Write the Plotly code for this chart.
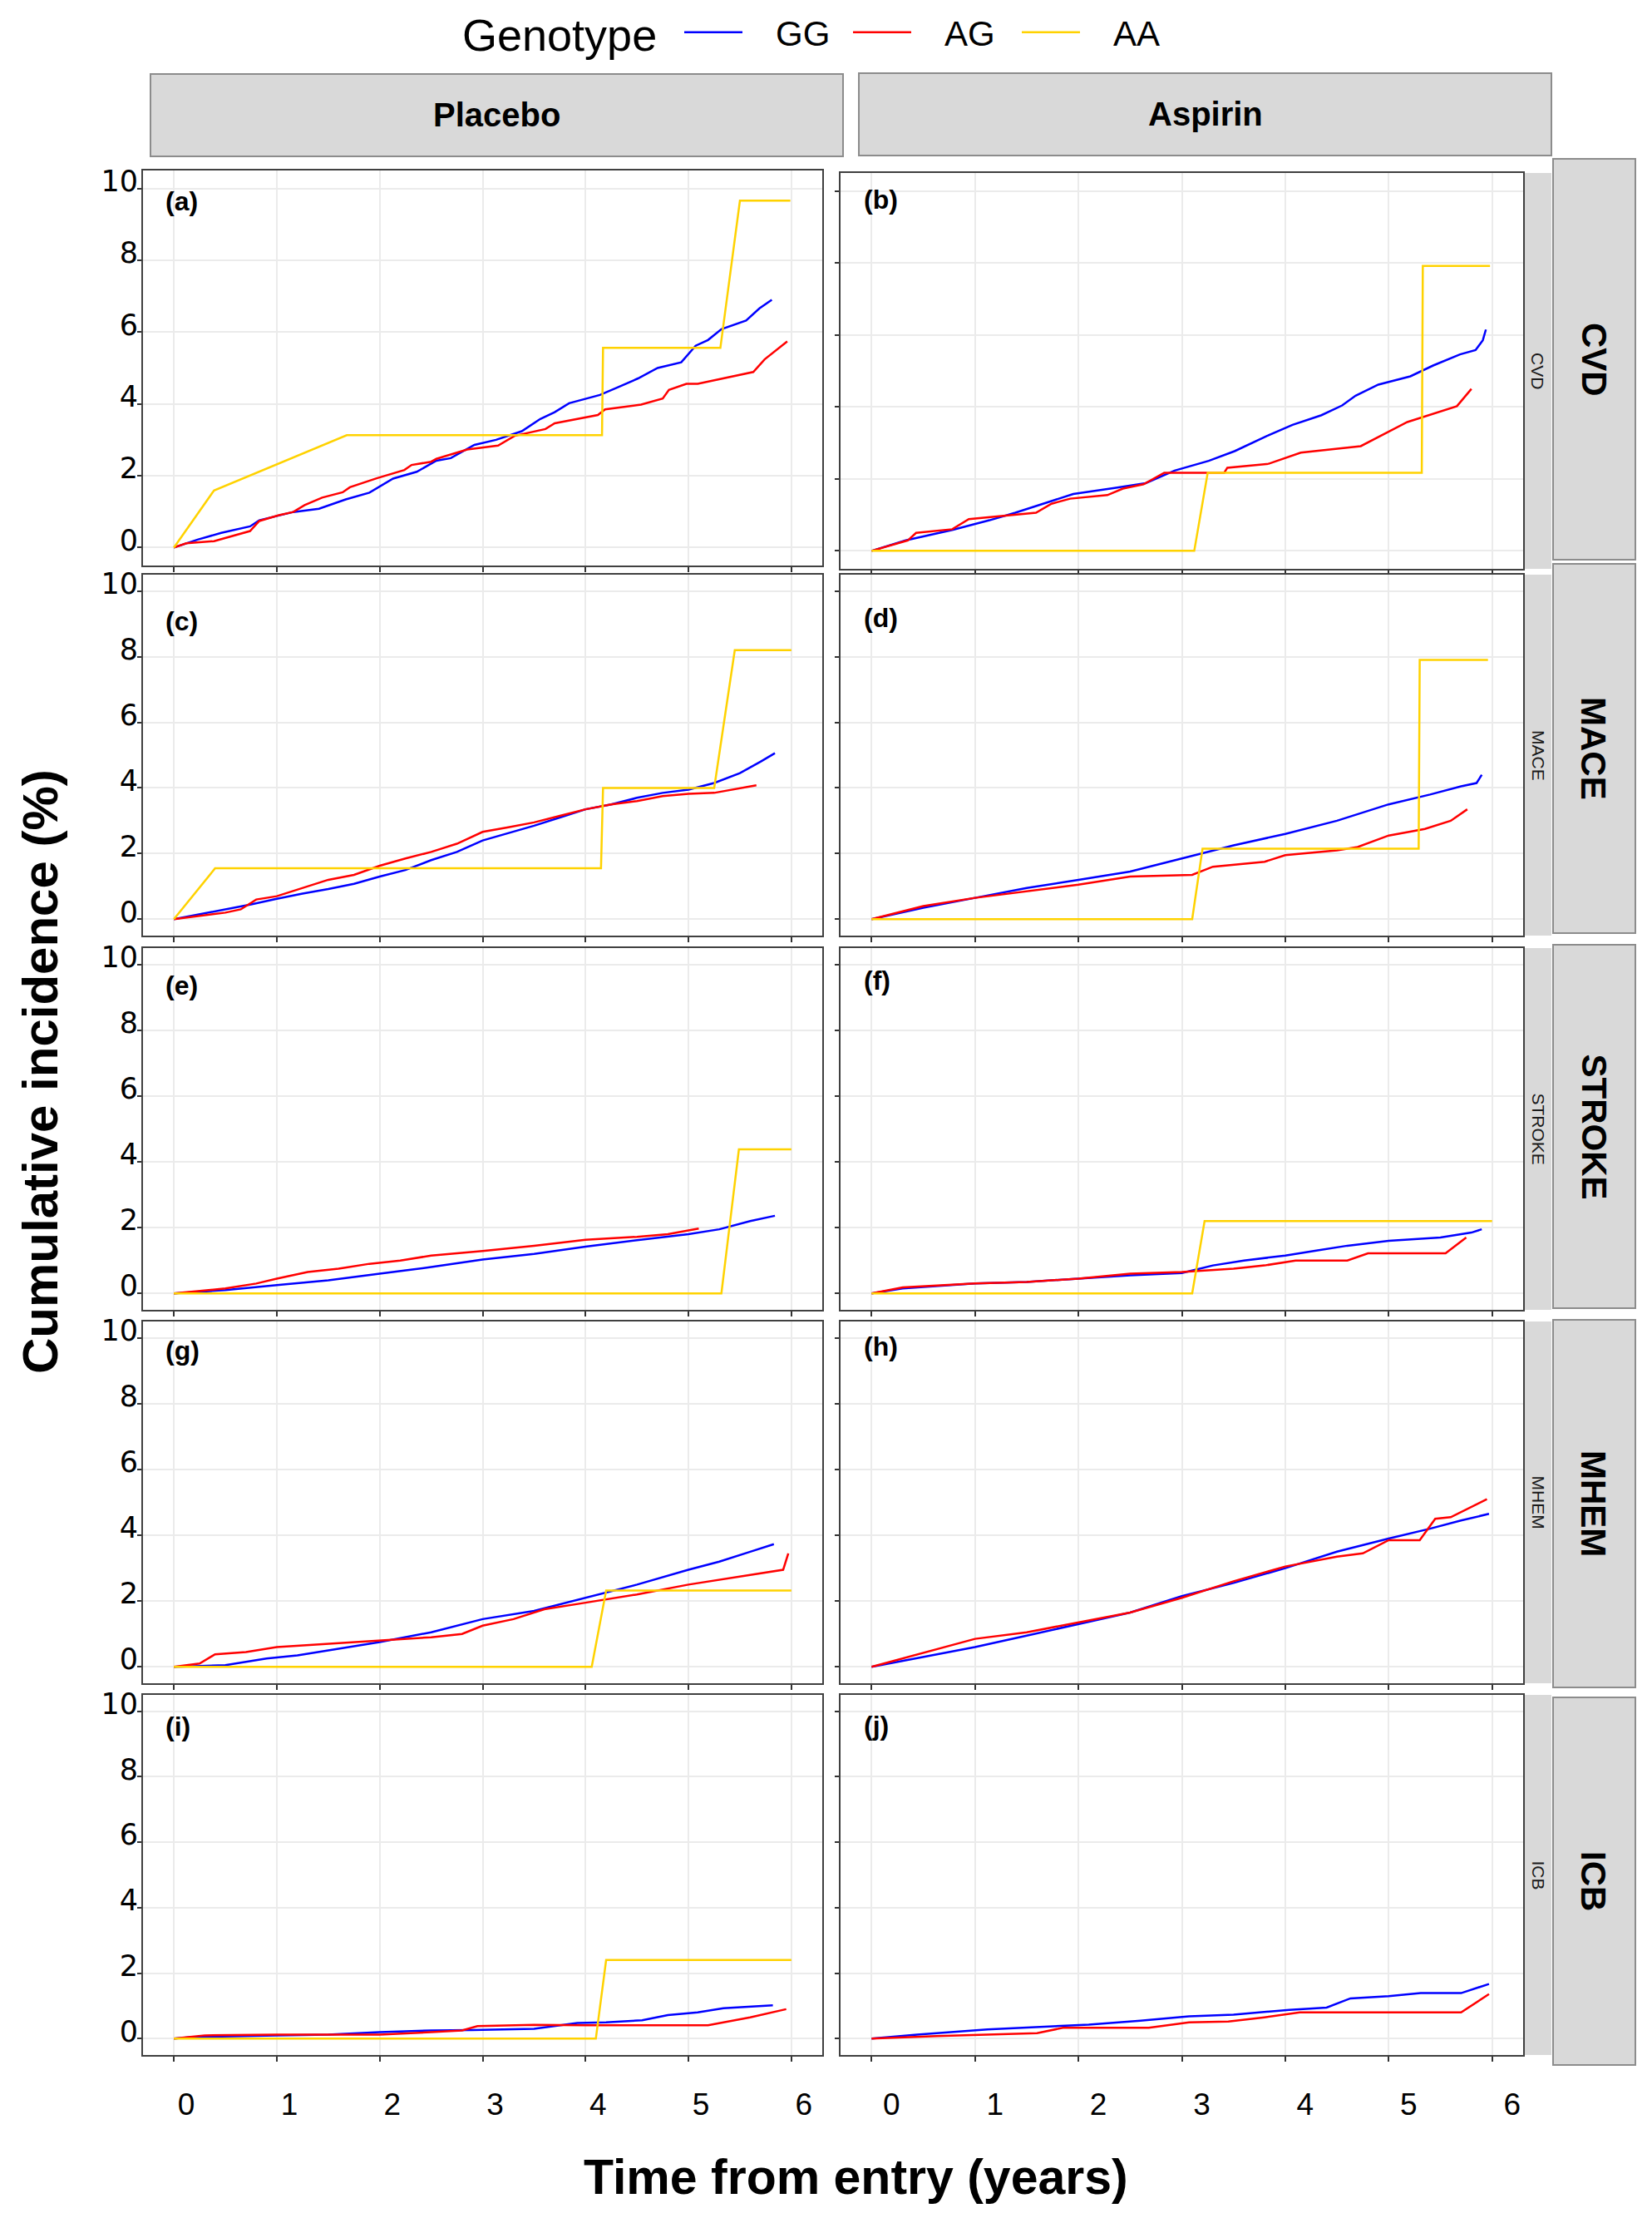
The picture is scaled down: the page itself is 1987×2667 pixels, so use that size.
import plotly.graph_objects as go

# the page body has an 8 px margin, so the figure is drawn 16 px smaller
PAGE_W, PAGE_H = 1987, 2667
BODY = 8
W, H = PAGE_W - 2 * BODY, PAGE_H - 2 * BODY

GENOTYPES = ["GG", "AG", "AA"]
COLORS = {"GG": "#0000FF", "AG": "#FF0000", "AA": "#FFD200"}
ARMS = ["Placebo", "Aspirin"]
OUTCOMES = ["CVD", "MACE", "STROKE", "MHEM", "ICB"]
TAGS = ["(a)", "(b)", "(c)", "(d)", "(e)", "(f)", "(g)", "(h)", "(i)", "(j)"]
X_TICKS = [0, 1, 2, 3, 4, 5, 6]
Y_TICKS = [0, 2, 4, 6, 8, 10]

# (years, cumulative incidence %)
CVD_PLACEBO_GG = [(0, 0), (0.23, 0.22), (0.46, 0.41), (0.74, 0.59), (0.83, 0.76), (1.16, 0.99),
                  (1.41, 1.08), (1.67, 1.34), (1.9, 1.53), (2.13, 1.92), (2.36, 2.11), (2.55, 2.42),
                  (2.69, 2.49), (2.92, 2.86), (3.13, 3.0), (3.38, 3.24), (3.56, 3.58), (3.7, 3.77),
                  (3.84, 4.02), (4.0, 4.15), (4.14, 4.25), (4.31, 4.46), (4.51, 4.71), (4.7, 5.0),
                  (4.93, 5.16), (5.07, 5.62), (5.19, 5.78), (5.32, 6.08), (5.56, 6.32), (5.69, 6.66),
                  (5.81, 6.9)]
CVD_PLACEBO_AG = [(0, 0), (0.12, 0.12), (0.39, 0.18), (0.74, 0.46), (0.83, 0.74), (1.02, 0.9),
                  (1.16, 0.99), (1.27, 1.18), (1.44, 1.39), (1.64, 1.54), (1.71, 1.68), (1.97, 1.93),
                  (2.24, 2.16), (2.31, 2.3), (2.5, 2.39), (2.55, 2.47), (2.85, 2.73), (3.15, 2.84),
                  (3.31, 3.11), (3.61, 3.3), (3.7, 3.46), (4.12, 3.69), (4.19, 3.85), (4.54, 3.98),
                  (4.75, 4.15), (4.81, 4.39), (4.98, 4.56), (5.09, 4.56), (5.63, 4.89), (5.74, 5.24),
                  (5.96, 5.74)]
CVD_PLACEBO_AA = [(0, 0), (0.39, 1.59), (1.68, 3.13), (4.16, 3.13), (4.17, 5.56), (5.31, 5.56),
                  (5.5, 9.66), (5.99, 9.66)]

CVD_ASPIRIN_GG = [(0, 0), (0.33, 0.29), (0.78, 0.58), (1.14, 0.85), (1.39, 1.06), (1.64, 1.29),
                  (1.95, 1.58), (2.35, 1.75), (2.65, 1.88), (2.93, 2.23), (3.26, 2.5), (3.51, 2.77),
                  (3.82, 3.19), (4.07, 3.5), (4.35, 3.77), (4.55, 4.04), (4.68, 4.31), (4.9, 4.62),
                  (5.21, 4.85), (5.43, 5.15), (5.69, 5.46), (5.84, 5.58), (5.91, 5.85), (5.94, 6.15)]
CVD_ASPIRIN_AG = [(0, 0), (0.35, 0.29), (0.43, 0.5), (0.78, 0.6), (0.94, 0.88), (1.59, 1.06),
                  (1.74, 1.31), (1.92, 1.45), (2.28, 1.55), (2.43, 1.73), (2.63, 1.85), (2.83, 2.17),
                  (3.41, 2.17), (3.44, 2.31), (3.84, 2.42), (4.15, 2.73), (4.73, 2.91), (5.18, 3.58),
                  (5.66, 4.02), (5.8, 4.5)]
CVD_ASPIRIN_AA = [(0, 0), (3.12, 0), (3.25, 2.17), (5.32, 2.17), (5.33, 7.92), (5.98, 7.92)]

MACE_PLACEBO_GG = [(0, 0), (0.25, 0.15), (0.5, 0.3), (0.75, 0.45), (1, 0.62), (1.25, 0.78),
                   (1.5, 0.92), (1.75, 1.08), (2, 1.3), (2.25, 1.5), (2.5, 1.8), (2.75, 2.05),
                   (3, 2.4), (3.25, 2.62), (3.5, 2.85), (3.75, 3.1), (4, 3.35), (4.25, 3.5),
                   (4.5, 3.7), (4.75, 3.85), (5, 3.95), (5.25, 4.15), (5.5, 4.45), (5.7, 4.8),
                   (5.84, 5.06)]
MACE_PLACEBO_AG = [(0, 0), (0.25, 0.1), (0.5, 0.2), (0.65, 0.3), (0.8, 0.6), (1, 0.7),
                   (1.25, 0.95), (1.5, 1.2), (1.75, 1.35), (2, 1.63), (2.25, 1.85), (2.5, 2.05),
                   (2.75, 2.3), (3, 2.66), (3.25, 2.8), (3.5, 2.95), (3.75, 3.15), (4, 3.35),
                   (4.25, 3.5), (4.5, 3.6), (4.75, 3.75), (5, 3.82), (5.25, 3.85), (5.5, 4.0),
                   (5.66, 4.08)]
MACE_PLACEBO_AA = [(0, 0), (0.4, 1.55), (4.15, 1.55), (4.17, 4.0), (5.25, 4.0), (5.45, 8.2),
                   (6.0, 8.2)]

MACE_ASPIRIN_GG = [(0, 0), (0.5, 0.35), (1, 0.65), (1.5, 0.95), (2, 1.2), (2.5, 1.45), (3, 1.85),
                   (3.5, 2.25), (4, 2.6), (4.5, 3.0), (5, 3.5), (5.4, 3.8), (5.7, 4.05),
                   (5.85, 4.15), (5.9, 4.4)]
MACE_ASPIRIN_AG = [(0, 0), (0.5, 0.4), (1, 0.65), (1.5, 0.85), (2, 1.05), (2.5, 1.3), (3.1, 1.35),
                   (3.3, 1.6), (3.8, 1.75), (4.0, 1.95), (4.5, 2.1), (4.7, 2.2), (5.0, 2.55),
                   (5.35, 2.75), (5.6, 3.0), (5.76, 3.35)]
MACE_ASPIRIN_AA = [(0, 0), (3.1, 0), (3.2, 2.15), (5.29, 2.15), (5.3, 7.9), (5.96, 7.9)]

STROKE_PLACEBO_GG = [(0, 0), (0.5, 0.1), (1, 0.25), (1.5, 0.4), (2, 0.6), (2.5, 0.8), (3, 1.03),
                     (3.5, 1.2), (4, 1.42), (4.5, 1.62), (5, 1.8), (5.3, 1.95), (5.6, 2.2),
                     (5.84, 2.36)]
STROKE_PLACEBO_AG = [(0, 0), (0.5, 0.15), (0.8, 0.3), (1, 0.45), (1.3, 0.65), (1.6, 0.75),
                     (1.9, 0.9), (2.2, 1.0), (2.5, 1.15), (3, 1.29), (3.5, 1.45), (4, 1.63),
                     (4.5, 1.72), (4.8, 1.8), (5.1, 1.97)]
STROKE_PLACEBO_AA = [(0, 0), (5.32, 0), (5.49, 4.38), (6.0, 4.38)]

STROKE_ASPIRIN_GG = [(0, 0), (0.3, 0.15), (1, 0.3), (1.5, 0.35), (2, 0.45), (2.5, 0.55),
                     (3, 0.62), (3.3, 0.85), (3.6, 1.0), (4, 1.15), (4.3, 1.3), (4.6, 1.45),
                     (5, 1.6), (5.5, 1.7), (5.8, 1.85), (5.9, 1.95)]
STROKE_ASPIRIN_AG = [(0, 0), (0.3, 0.18), (1, 0.3), (1.5, 0.35), (2, 0.45), (2.5, 0.6),
                     (3, 0.65), (3.5, 0.75), (3.8, 0.85), (4.1, 1.0), (4.6, 1.0), (4.8, 1.22),
                     (5.55, 1.22), (5.75, 1.7)]
STROKE_ASPIRIN_AA = [(0, 0), (3.1, 0), (3.22, 2.2), (6.0, 2.2)]

MHEM_PLACEBO_GG = [(0, 0), (0.5, 0.05), (0.9, 0.25), (1.2, 0.35), (1.5, 0.5), (2, 0.75),
                   (2.5, 1.05), (3, 1.45), (3.5, 1.7), (4, 2.1), (4.5, 2.5), (5, 2.95),
                   (5.3, 3.2), (5.6, 3.5), (5.83, 3.73)]
MHEM_PLACEBO_AG = [(0, 0), (0.25, 0.1), (0.4, 0.38), (0.7, 0.45), (1, 0.6), (1.5, 0.7), (2, 0.8),
                   (2.5, 0.9), (2.8, 1.0), (3.0, 1.25), (3.3, 1.45), (3.6, 1.75), (4, 1.95),
                   (4.5, 2.2), (5, 2.5), (5.5, 2.75), (5.92, 2.95), (5.97, 3.45)]
MHEM_PLACEBO_AA = [(0, 0), (4.06, 0), (4.2, 2.32), (6.0, 2.32)]

MHEM_ASPIRIN_GG = [(0, 0), (0.5, 0.3), (1, 0.6), (1.5, 0.95), (2, 1.3), (2.5, 1.65), (3, 2.15),
                   (3.5, 2.55), (4, 3.0), (4.5, 3.5), (5, 3.9), (5.4, 4.2), (5.7, 4.45),
                   (5.97, 4.65)]
MHEM_ASPIRIN_AG = [(0, 0), (0.3, 0.25), (0.6, 0.5), (1, 0.85), (1.5, 1.05), (2, 1.35), (2.5, 1.65),
                   (3, 2.1), (3.5, 2.6), (4, 3.05), (4.5, 3.35), (4.75, 3.45), (5, 3.85),
                   (5.3, 3.85), (5.45, 4.5), (5.6, 4.55), (5.95, 5.1)]
MHEM_ASPIRIN_AA = []

ICB_PLACEBO_GG = [(0, 0), (0.2, 0.05), (1, 0.1), (1.5, 0.12), (2, 0.2), (2.5, 0.25), (2.9, 0.26),
                  (3.5, 0.3), (3.92, 0.48), (4.2, 0.5), (4.55, 0.56), (4.8, 0.72), (5.09, 0.8),
                  (5.34, 0.93), (5.82, 1.02)]
ICB_PLACEBO_AG = [(0, 0), (0.3, 0.1), (1, 0.12), (2, 0.12), (2.5, 0.2), (2.8, 0.25), (2.95, 0.38),
                  (3.5, 0.42), (4, 0.41), (5.19, 0.41), (5.6, 0.65), (5.95, 0.9)]
ICB_PLACEBO_AA = [(0, 0), (4.1, 0), (4.2, 2.4), (6.0, 2.4)]

ICB_ASPIRIN_GG = [(0, 0), (0.44, 0.12), (1.12, 0.28), (1.6, 0.35), (2.1, 0.43), (2.6, 0.55),
                  (3.07, 0.68), (3.5, 0.73), (4.04, 0.88), (4.4, 0.95), (4.63, 1.23), (5.0, 1.3),
                  (5.31, 1.39), (5.7, 1.39), (5.97, 1.67)]
ICB_ASPIRIN_AG = [(0, 0), (0.63, 0.08), (1.6, 0.17), (1.85, 0.33), (2.68, 0.33), (3.07, 0.5),
                  (3.45, 0.52), (3.8, 0.65), (4.14, 0.8), (5.7, 0.8), (5.97, 1.36)]
ICB_ASPIRIN_AA = []

SERIES = {name: globals()[name] for name in globals() if name.endswith(("_GG", "_AG", "_AA"))}

# panel geometry in page pixels
COL_X = [(172, 989), (1011, 1832)]
ROW_Y = [[(205, 680), (208, 684)],
         [(691, 1125), (691, 1125)],
         [(1140, 1575), (1140, 1575)],
         [(1589, 2024), (1589, 2024)],
         [(2038, 2471), (2038, 2471)]]
TAG_POS = [[(197, 242), (1037, 240)], [(197, 747), (1037, 743)], [(197, 1185), (1037, 1179)],
           [(197, 1624), (1037, 1619)], [(197, 2076), (1037, 2075)]]
RIGHT_STRIPS = [(191, 673), (678, 1122), (1136, 1573), (1587, 2029), (2041, 2483)]
TOP_STRIPS = [(181, 1014, 89, 188), (1033, 1866, 88, 187)]


def px(x):
    return (x - BODY) / W


def py(y):
    return 1 - (y - BODY) / H


def note(text, x, y, size, bold=False, angle=0, xanchor="center", color="#000000", family="Liberation Sans, Arial"):
    return dict(text=text, x=px(x), y=py(y), xref="paper", yref="paper",
                xanchor=xanchor, yanchor="middle", textangle=angle, showarrow=False,
                font=dict(family=family, size=size, color=color,
                          weight="bold" if bold else "normal"))


fig = go.Figure()
layout = {}
annotations = []
shapes = []

k = 0
for r, outcome in enumerate(OUTCOMES):
    for c, arm in enumerate(ARMS):
        k += 1
        xa = "xaxis" if k == 1 else f"xaxis{k}"
        ya = "yaxis" if k == 1 else f"yaxis{k}"
        xref = "x" if k == 1 else f"x{k}"
        yref = "y" if k == 1 else f"y{k}"
        x0, x1 = COL_X[c]
        y0, y1 = ROW_Y[r][c]
        layout[xa] = dict(
            domain=[px(x0), px(x1)], anchor=yref, range=[-0.3, 6.3],
            tickvals=X_TICKS, showgrid=True, gridcolor="#EBEBEB", gridwidth=2,
            zeroline=False, showline=True, mirror=True, linecolor="#404040", linewidth=2,
            ticks="outside", ticklen=6, tickwidth=2, tickcolor="#333333",
            showticklabels=(r == len(OUTCOMES) - 1),
            tickfont=dict(family="Liberation Sans, Arial", size=37, color="#000000"),
            ticklabelstandoff=20, ticklabelshift=15 if c == 0 else 24,
        )
        layout[ya] = dict(
            domain=[py(y1), py(y0)], anchor=xref, range=[-0.5, 10.5],
            tickvals=Y_TICKS, showgrid=True, gridcolor="#EBEBEB", gridwidth=2,
            zeroline=False, showline=True, mirror=True, linecolor="#404040", linewidth=2,
            ticks="outside", ticklen=5, tickwidth=2, tickcolor="#333333",
            showticklabels=(c == 0), ticklabelshift=-9, ticklabelstandoff=-8,
            tickfont=dict(family="DejaVu Sans", size=35, color="#000000"),
        )
        for g in GENOTYPES:
            pts = SERIES[f"{outcome}_{arm.upper()}_{g}"]
            if not pts:
                continue
            fig.add_trace(go.Scatter(
                x=[p[0] for p in pts], y=[p[1] for p in pts], mode="lines",
                line=dict(color=COLORS[g], width=2.5),
                name="\u00a0\u00a0\u00a0" + g, legendgroup=g,
                showlegend=(k == 1), xaxis=xref, yaxis=yref,
            ))
        tx, ty = TAG_POS[r][c]
        annotations.append(note(TAGS[k - 1], tx, ty, 32, bold=True, xanchor="left"))

    # right-hand strips: thin inner one and the big labelled one
    iy0, iy1 = ROW_Y[r][1]
    shapes.append(dict(type="rect", xref="paper", yref="paper", x0=px(1833), x1=px(1866),
                       y0=py(iy1), y1=py(iy0), fillcolor="#D9D9D9", line=dict(width=0), layer="below"))
    annotations.append(note(outcome, 1850, (iy0 + iy1) / 2, 21, angle=90, color="#1A1A1A"))
    sy0, sy1 = RIGHT_STRIPS[r]
    shapes.append(dict(type="rect", xref="paper", yref="paper", x0=px(1868), x1=px(1967),
                       y0=py(sy1), y1=py(sy0), fillcolor="#D9D9D9",
                       line=dict(color="#8C8C8C", width=2)))
    annotations.append(note(outcome, 1917, (sy0 + sy1) / 2, 42, bold=True, angle=90))

for (sx0, sx1, sy0, sy1), arm in zip(TOP_STRIPS, ARMS):
    shapes.append(dict(type="rect", xref="paper", yref="paper", x0=px(sx0), x1=px(sx1),
                       y0=py(sy1), y1=py(sy0), fillcolor="#D9D9D9",
                       line=dict(color="#8C8C8C", width=2)))
    annotations.append(note(arm, (sx0 + sx1) / 2, (sy0 + sy1) / 2, 40, bold=True))

# axis titles and legend title
annotations.append(note("Cumulative incidence (%)", 48, 1289, 60, bold=True, angle=-90))
annotations.append(note("Time from entry (years)", 1029, 2618, 59, bold=True))
annotations.append(note("Genotype", 792, 42, 54, xanchor="right"))

fig.update_layout(
    **layout,
    width=W, height=H,
    margin=dict(l=0, r=0, t=0, b=0, autoexpand=False),
    paper_bgcolor="white", plot_bgcolor="white",
    annotations=annotations, shapes=shapes,
    legend=dict(
        orientation="h", x=px(818), xanchor="left", y=py(39), yanchor="middle",
        font=dict(family="Liberation Sans, Arial", size=42, color="#000000"),
        bgcolor="rgba(0,0,0,0)", itemwidth=70, entrywidth=118, entrywidthmode="pixels",
    ),
)

fig.write_html("out.html")
